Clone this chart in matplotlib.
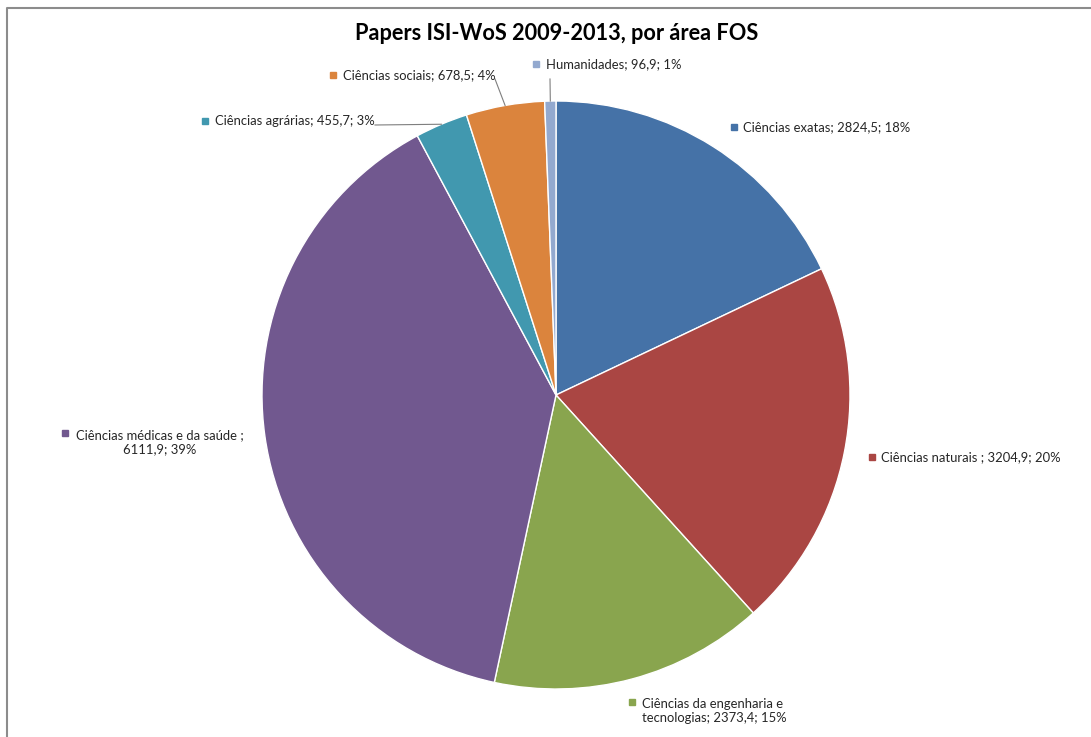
import numpy as np
import matplotlib.pyplot as plt

plt.rcParams['font.family'] = ['Lato', 'DejaVu Sans']

# data
areas = ['Ciências exatas', 'Ciências naturais ', 'Ciências da engenharia e\ntecnologias',
         'Ciências médicas e da saúde ', 'Ciências agrárias', 'Ciências sociais', 'Humanidades']
papers = [2824.5, 3204.9, 2373.4, 6111.9, 455.7, 678.5, 96.9]
colors = ['#4572A7', '#AA4643', '#89A54E', '#71588F', '#4198AF', '#DB843D', '#93A9CF']
title = 'Papers ISI-WoS 2009-2013, por área FOS'

W, H = 1091, 737
fig = plt.figure(figsize=(W / 100, H / 100), dpi=100)
ax = fig.add_axes([0, 0, 1, 1])

cx, cy, r = 556, H - 395, 294
wedges, _ = ax.pie(papers, colors=colors, startangle=90, counterclock=False,
                   center=(cx, cy), radius=r,
                   wedgeprops=dict(edgecolor='white', linewidth=1))
ax.set_xlim(0, W)
ax.set_ylim(0, H)
ax.set_aspect('auto')
ax.axis('off')

# label layout: marker x, marker y (pixels from top), separator, text anchor
layout = [
    dict(mx=734, my=127, sep=' ', tx=743, ty=127, ha='left'),
    dict(mx=872, my=457, sep=' ', tx=881, ty=457, ha='left'),
    dict(mx=632, my=702, sep=' ', tx=642, ty=711, ha='left'),
    dict(mx=65, my=433, sep='\n', tx=160, ty=442, ha='center'),
    dict(mx=205, my=121, sep=' ', tx=215, ty=121, ha='left'),
    dict(mx=333, my=75, sep=' ', tx=343, ty=75, ha='left'),
    dict(mx=536, my=64, sep=' ', tx=546, ty=64, ha='left'),
]
# leader line start (pixels) for the small slices
leaders = {4: (375, 125), 5: (495, 79), 6: (550, 79)}

total = sum(papers)
for i, (name, val, col, lay) in enumerate(zip(areas, papers, colors, layout)):
    pct = round(100 * val / total)
    txt = f"{name};{lay['sep']}{val:.1f}; {pct}%".replace('.', ',')
    ax.plot(lay['mx'], H - lay['my'], marker='s', markersize=4.5, color=col, linestyle='none')
    ax.text(lay['tx'], H - lay['ty'], txt, ha=lay['ha'], va='center', fontsize=9.4,
            color='#262626', multialignment=lay['ha'], linespacing=1.2)
    if i in leaders:
        w = wedges[i]
        mid = np.deg2rad((w.theta1 + w.theta2) / 2)
        ex, ey = cx + r * np.cos(mid), cy + r * np.sin(mid)
        sx, sy = leaders[i]
        ax.plot([sx, ex], [H - sy, ey], color='#7f7f7f', linewidth=0.8)

ax.text(557, H - 33, title, ha='center', va='center', fontsize=15.7, fontweight='bold', color='black')

# chart frame
ax.plot([7, 7, W], [0, H - 8, H - 8], color='#8c8c8c', linewidth=1.5, clip_on=False)

fig.savefig('out.png', dpi=100)
